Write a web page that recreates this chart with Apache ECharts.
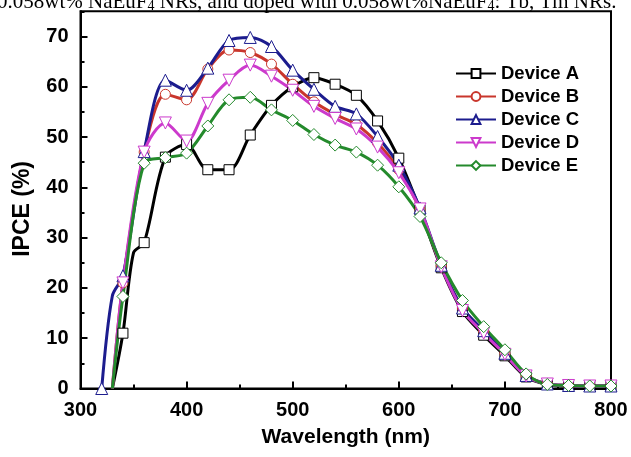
<!DOCTYPE html>
<html style="height: 100%">
<head>
    <meta charset="utf-8">
    <script src="https://cdn.jsdelivr.net/npm/echarts@6/dist/echarts.min.js"></script>
    <title>IPCE</title>
</head>
<body style="height: 100%; margin: 0; background: #fff">
<div id="container" style="width: 631px; height: 457px"></div>

<script type="text/javascript">
    // wavelength (nm); markers only every 20 nm
    var wavelength = [320, 330, 340, 350, 360, 380, 400, 420, 440, 460, 480, 500, 520, 540, 560,
        580, 600, 620, 640, 660, 680, 700, 720, 740, 760, 780, 800];

    var deviceA = [null, 0, 11, 27, 29, 46, 48.5, 43.5, 43.5, 50.4, 56.3, 60, 61.8, 60.5, 58.3,
        53.2, 45.8, 35.5, 24, 15.3, 10.6, 6.5, 2.3, 0.8, 0.5, 0.5, 0.5];
    var deviceB = [null, 0, 21, null, 47, 58.5, 57.4, 63.5, 67.3, 66.8, 64.5, 60.5, 57, 54.5, 52.5,
        48.8, 43.5, 35.5, 24.4, 16, 11.4, 7, 2.6, 0.9, 0.6, 0.5, 0.5];
    var deviceC = [0, 18.4, 22.4, null, 47.1, 61.3, 59.3, 63.7, 69.2, 69.8, 68, 63.3, 59.5, 56.1, 54.6,
        50.1, 44.4, 35.9, 24.5, 16, 11.5, 7, 2.6, 0.9, 0.6, 0.5, 0.5];
    var deviceD = [null, 0, 21, null, 47, 52.8, 49.2, 56.7, 61.3, 64.3, 62.1, 59.3, 56.1, 53.7, 51.6,
        48, 42.9, 35.7, 24.2, 15.5, 11, 6.8, 2.5, 0.9, 0.6, 0.5, 0.5];
    var deviceE = [null, 0, 18.3, null, 44.8, 45.9, 46.8, 52.2, 57.4, 57.9, 55.4, 53.3, 50.5, 48.4, 47,
        44.4, 40.1, 34.2, 25, 17.5, 12.3, 7.7, 2.9, 0.8, 0.6, 0.5, 0.5];

    var names = ['Device A', 'Device B', 'Device C', 'Device D', 'Device E'];
    var colors = ['#000000', '#c9362c', '#1c1c8e', '#cc3acc', '#248a2c'];
    var symbols = ['rect', 'circle', 'triangle', 'path://M0,0 L10,0 L5,8.66 Z', 'diamond'];
    var sizes = [10, 10, 12, 12, 12];
    var values = [deviceA, deviceB, deviceC, deviceD, deviceE];

    var myChart = echarts.init(document.getElementById('container'), null, {renderer: 'canvas'});

    var series = values.map(function (arr, k) {
        var pts = [];
        for (var i = 0; i < wavelength.length; i++) {
            if (arr[i] === null) continue;
            var item = {value: [wavelength[i], arr[i]]};
            if (wavelength[i] % 20 !== 0) item.symbol = 'none';
            pts.push(item);
        }
        return {
            name: names[k],
            type: 'line',
            data: pts,
            smooth: 0.3,
            symbol: symbols[k],
            symbolSize: sizes[k],
            showAllSymbol: true,
            lineStyle: {color: colors[k], width: 3},
            itemStyle: {color: '#ffffff', borderColor: colors[k], borderWidth: 1},
            emphasis: {disabled: true}
        };
    });

    var option = {
        backgroundColor: '#ffffff',
        animation: false,
        title: {
            text: '0.058wt% NaEuF{s|4} NRs, and doped with 0.058wt%NaEuF{s|4}: Tb, Tm NRs.',
            left: -3,
            top: -9,
            padding: 0,
            textStyle: {
                fontFamily: 'Liberation Serif',
                fontWeight: 'normal',
                fontSize: 21,
                color: '#000',
                rich: {
                    s: {fontFamily: 'Liberation Serif', fontSize: 14, color: '#000', padding: [8, 0, 0, 0]}
                }
            }
        },
        legend: {
            orient: 'vertical',
            left: 450,
            top: 59,
            itemWidth: 40,
            itemHeight: 11,
            itemGap: 4,
            textStyle: {fontFamily: 'Liberation Sans', fontWeight: 'bold', fontSize: 18.5, color: '#000'},
            data: names
        },
        grid: {
            left: 80.5,
            right: 20,
            top: 11.3,
            bottom: 68.5,
            show: true,
            borderColor: '#000',
            borderWidth: 2
        },
        xAxis: {
            type: 'value',
            min: 300,
            max: 800,
            interval: 100,
            name: 'Wavelength (nm)',
            nameLocation: 'middle',
            nameGap: 38,
            nameTextStyle: {fontFamily: 'Liberation Sans', fontWeight: 'bold', fontSize: 21, color: '#000'},
            axisLine: {lineStyle: {color: '#000', width: 2}},
            axisTick: {inside: true, length: 7, lineStyle: {width: 2, color: '#000'}},
            minorTick: {show: true, splitNumber: 2, length: 4, lineStyle: {width: 2, color: '#000'}},
            axisLabel: {margin: 12, fontFamily: 'Liberation Sans', fontWeight: 'bold', fontSize: 20, color: '#000'},
            splitLine: {show: false}
        },
        yAxis: [{
            type: 'value',
            min: 0,
            max: 75,
            interval: 10,
            name: 'IPCE (%)',
            nameLocation: 'middle',
            nameGap: 46,
            nameTextStyle: {fontFamily: 'Liberation Sans', fontWeight: 'bold', fontSize: 23, color: '#000', padding: [0, 18, 0, 0]},
            axisLine: {lineStyle: {color: '#000', width: 2}},
            axisTick: {inside: true, length: 7, lineStyle: {width: 2, color: '#000'}},
            axisLabel: {margin: 12, showMaxLabel: false, fontFamily: 'Liberation Sans', fontWeight: 'bold', fontSize: 20, color: '#000'},
            splitLine: {show: false}
        }, {
            type: 'value',
            position: 'left',
            min: 0,
            max: 75,
            interval: 5,
            axisLine: {show: false},
            axisTick: {show: true, inside: true, length: 4, lineStyle: {width: 2, color: '#000'}},
            axisLabel: {show: false},
            splitLine: {show: false}
        }],
        series: series
    };

    myChart.setOption(option);
    window.addEventListener('resize', myChart.resize);
</script>
</body>
</html>
